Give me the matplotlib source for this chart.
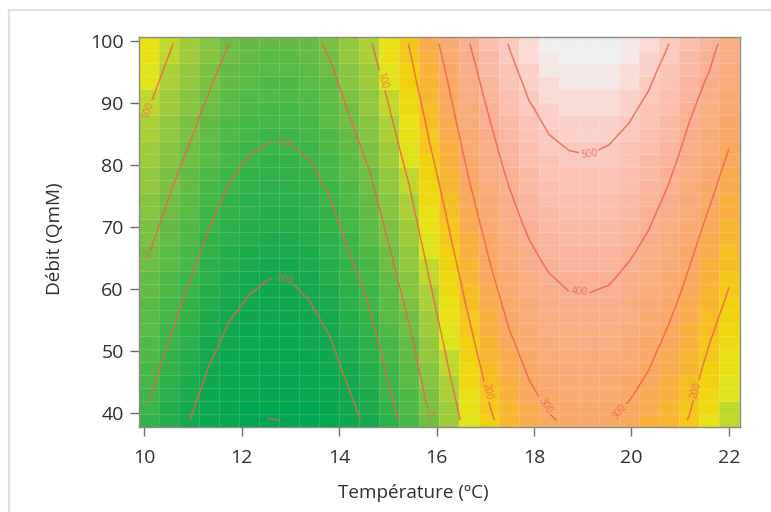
import numpy as np
import matplotlib
matplotlib.use('Agg')
import matplotlib.pyplot as plt
from matplotlib.colors import LinearSegmentedColormap, Normalize
from matplotlib.lines import Line2D

plt.rcParams['font.family'] = ['Open Sans', 'DejaVu Sans']

temperature = [10.10, 10.51, 10.92, 11.33, 11.74, 12.16, 12.57, 12.98, 13.39, 13.80,
               14.21, 14.62, 15.03, 15.44, 15.85, 16.26, 16.67, 17.08, 17.49, 17.90,
               18.31, 18.72, 19.13, 19.54, 19.95, 20.36, 20.77, 21.18, 21.59, 22.00]
debit = [38.8, 40.9, 43.0, 45.1, 47.2, 49.3, 51.4, 53.5, 55.6, 57.7,
         59.8, 61.9, 64.0, 66.1, 68.2, 70.3, 72.4, 74.5, 76.6, 78.7,
         80.7, 82.8, 84.9, 87.0, 89.1, 91.2, 93.3, 95.4, 97.5, 99.6]

# one list per temperature column, low debit to high debit
z00 = [-112,-103,-94,-85,-77,-68,-59,-50,-41,-32,-23,-15,-6,3,12,21,30,39,47,56,65,74,83,92,101,109,118,127,136,145]
z01 = [-156,-147,-138,-129,-120,-111,-101,-92,-83,-74,-65,-56,-47,-38,-29,-20,-10,-1,8,17,26,35,44,53,62,72,81,90,99,108]
z02 = [-198,-189,-179,-170,-161,-151,-142,-133,-123,-114,-105,-95,-86,-77,-67,-58,-49,-39,-30,-20,-11,-2,8,17,26,36,45,54,64,73]
z03 = [-240,-230,-221,-211,-202,-192,-183,-173,-164,-154,-145,-135,-126,-116,-107,-97,-88,-78,-69,-59,-50,-40,-31,-21,-12,-2,7,17,26,36]
z04 = [-270,-261,-251,-242,-233,-223,-214,-205,-196,-186,-177,-168,-158,-149,-140,-130,-121,-112,-102,-93,-84,-74,-65,-56,-47,-37,-28,-19,-9,0]
z05 = [-290,-281,-271,-262,-253,-243,-234,-225,-216,-206,-197,-188,-178,-169,-160,-150,-141,-132,-122,-113,-104,-94,-85,-76,-67,-57,-48,-39,-29,-20]
z06 = [-301,-294,-284,-275,-265,-256,-246,-237,-227,-218,-208,-199,-189,-180,-170,-161,-151,-142,-132,-123,-113,-104,-94,-85,-75,-66,-56,-47,-37,-28]
z07 = [-299,-292,-282,-273,-263,-254,-245,-235,-226,-216,-207,-198,-188,-179,-169,-160,-150,-141,-132,-122,-113,-103,-94,-84,-75,-66,-56,-47,-37,-28]
z08 = [-285,-276,-267,-257,-248,-239,-230,-221,-211,-202,-193,-184,-175,-165,-156,-147,-138,-129,-119,-110,-101,-92,-83,-73,-64,-55,-46,-37,-27,-18]
z09 = [-262,-253,-243,-234,-224,-215,-206,-196,-187,-178,-168,-159,-149,-140,-131,-121,-112,-103,-93,-84,-74,-65,-56,-46,-37,-28,-18,-9,1,10]
z10 = [-222,-213,-203,-194,-184,-175,-165,-156,-146,-137,-128,-118,-109,-99,-90,-80,-71,-61,-52,-42,-33,-24,-14,-5,5,14,24,33,43,52]
z11 = [-183,-174,-164,-155,-145,-136,-126,-117,-107,-98,-88,-79,-69,-60,-50,-41,-31,-22,-12,-3,7,16,26,35,45,54,64,73,83,92]
z12 = [-125,-116,-106,-97,-88,-78,-69,-60,-50,-41,-32,-22,-13,-4,6,15,24,34,43,52,62,71,80,90,99,108,118,127,137,146]
z13 = [-70,-61,-51,-42,-32,-23,-14,-4,5,15,24,34,43,52,62,71,81,90,99,109,118,128,137,146,156,165,175,184,193,203]
z14 = [-3,6,16,25,35,44,53,63,72,82,91,101,110,119,129,138,148,157,166,176,185,195,204,213,223,232,242,251,260,270]
z15 = [65,74,83,93,102,111,120,129,139,148,157,166,175,185,194,203,212,221,231,240,249,258,267,277,286,295,304,313,323,332]
z16 = [128,137,147,156,165,175,184,193,202,212,221,230,240,249,258,268,277,286,296,305,314,324,333,342,351,361,370,379,389,398]
z17 = [188,197,206,215,224,234,243,252,261,270,279,288,297,306,315,325,334,343,352,361,370,379,388,397,406,416,425,434,443,452]
z18 = [235,244,253,263,272,281,290,300,309,318,327,337,346,355,364,374,383,392,401,411,420,429,438,448,457,466,475,485,494,503]
z19 = [271,280,290,299,308,318,327,336,345,355,364,373,383,392,401,411,420,429,439,448,457,467,476,485,494,504,513,522,532,541]
z20 = [295,304,314,323,332,342,351,360,369,379,388,397,407,416,425,435,444,453,463,472,481,491,500,509,518,528,537,546,556,565]
z21 = [309,318,327,337,346,355,364,373,383,392,401,410,420,429,438,447,456,466,475,484,493,502,512,521,530,539,548,558,567,576]
z22 = [309,318,328,337,346,356,365,374,384,393,402,412,421,430,440,449,458,468,477,486,496,505,514,524,533,542,552,561,570,580]
z23 = [304,313,322,332,341,350,359,369,378,387,396,406,415,424,433,443,452,461,470,480,489,498,507,517,526,535,544,554,563,572]
z24 = [286,295,305,314,323,333,342,351,361,370,379,389,398,408,417,426,436,445,454,464,473,482,492,501,510,520,529,538,548,557]
z25 = [264,273,283,292,301,310,320,329,338,348,357,366,375,385,394,403,412,422,431,440,450,459,468,477,487,496,505,514,524,533]
z26 = [231,240,250,259,268,277,287,296,305,315,324,333,342,352,361,370,379,389,398,407,417,426,435,444,454,463,472,481,491,500]
z27 = [197,206,215,224,232,241,250,259,268,277,286,294,303,312,321,330,339,348,356,365,374,383,392,401,410,418,427,436,445,454]
z28 = [145,155,164,174,183,193,202,212,221,231,240,250,259,269,278,288,297,307,316,326,335,345,354,364,373,383,392,402,411,421]
z29 = [105,114,124,133,142,152,161,170,179,189,198,207,217,226,235,245,254,263,273,282,291,301,310,319,328,338,347,356,366,375]

levels = [-300, -200, -100, 0, 100, 200, 300, 400, 500]
label_spots = [(10.16, 88.5), (10.14, 65.0), (12.85, 83.5), (12.85, 60.6),
               (14.90, 93.7), (15.83, 40.0), (17.00, 43.4), (18.18, 41.0),
               (19.76, 40.2), (18.92, 59.2), (19.13, 81.6), (21.30, 43.7)]
x_ticks = [10, 12, 14, 16, 18, 20, 22]
y_ticks = [40, 50, 60, 70, 80, 90, 100]

color_stops = [(-310, '#00A651'), (-200, '#12A84C'), (-100, '#3DB54A'), (0, '#72BF44'),
               (80, '#A6CE39'), (100, '#B5D334'), (130, '#E6E617'), (180, '#EFD20F'),
               (220, '#F6BE25'), (260, '#FBB040'), (300, '#F9A965'), (400, '#F9AE8F'),
               (500, '#FAC8BC'), (540, '#FBDAD3'), (560, '#F3E8E5'), (580, '#EDEEEE')]

z = np.array([z00, z01, z02, z03, z04, z05, z06, z07, z08, z09,
              z10, z11, z12, z13, z14, z15, z16, z17, z18, z19,
              z20, z21, z22, z23, z24, z25, z26, z27, z28, z29]).T

W, H = 771, 512
fig = plt.figure(figsize=(W / 100, H / 100), dpi=100)
ax = fig.add_axes([139 / W, 1 - 427 / H, 601 / W, 390 / H])

norm = Normalize(-310, 580)
cmap = LinearSegmentedColormap.from_list(
    'terrain_print', [(norm(v), c) for v, c in color_stops], N=48)
ax.pcolormesh(temperature, debit, z, cmap=cmap, norm=norm, shading='nearest',
              edgecolors=(1, 1, 1, 0.14), linewidth=0.6)

cs = ax.contour(temperature, debit, z, levels=levels, colors='#F0604A',
                linewidths=1.1, alpha=0.8, linestyles='solid')
ax.clabel(cs, fmt='%d', fontsize=7, manual=label_spots, inline=True, inline_spacing=2)

ax.set_xlim(9.897, 22.226)
ax.set_ylim(37.74, 100.65)
ax.set_xticks(x_ticks)
ax.set_yticks(y_ticks)
ax.tick_params(axis='both', length=6.5, width=1, color='#6f6f6f',
               labelsize=14, labelcolor='#2f2f2f')
ax.tick_params(axis='x', pad=9)
ax.tick_params(axis='y', pad=4.5)
for s in ax.spines.values():
    s.set_color('#8c8c80')
    s.set_linewidth(1)

fig.text(413 / W, 1 - 493 / H, 'Température (ºC)', ha='center', va='center',
         fontsize=13.6, color='#2f2f2f')
fig.text(55 / W, 1 - 239 / H, 'Débit (QmM)', ha='center', va='center',
         rotation=90, fontsize=13.6, color='#2f2f2f')

# pale page border, top and left only
border = '#E2E0D6'
fig.add_artist(Line2D([8.5 / W, 8.5 / W], [0, 1 - 10 / H], color=border, lw=1.6))
fig.add_artist(Line2D([8.5 / W, 1], [1 - 10 / H, 1 - 10 / H], color=border, lw=1.6))

fig.savefig('out.png', dpi=100)
